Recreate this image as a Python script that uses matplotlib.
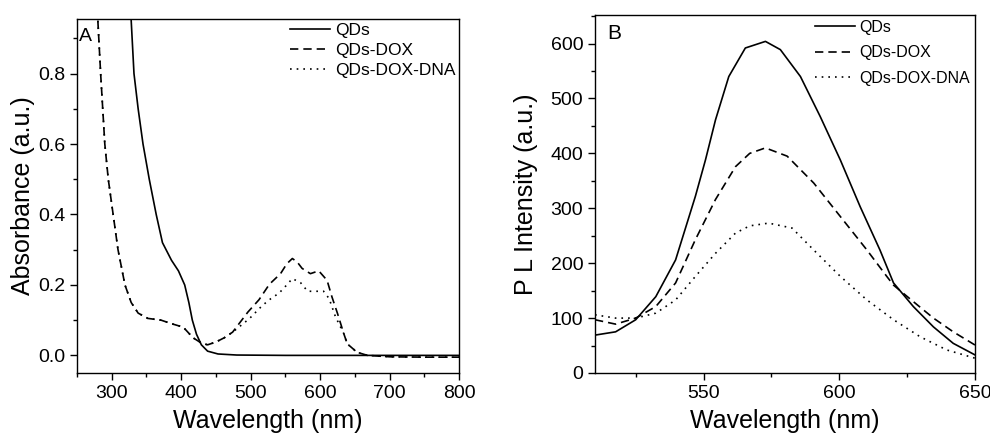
import matplotlib
matplotlib.use("Agg")
import matplotlib.pyplot as plt
from matplotlib.ticker import MultipleLocator, FormatStrFormatter

plt.rcParams["font.family"] = ["Liberation Sans", "DejaVu Sans"]

# panel A: absorbance vs wavelength
abs_qd_x = [328, 332, 338, 345, 354, 364, 373, 386, 396, 405, 411, 416, 422, 429, 438, 453, 480, 550, 650, 800]
abs_qd_y = [0.95, 0.8, 0.7, 0.6, 0.5, 0.4, 0.32, 0.27, 0.24, 0.2, 0.15, 0.1, 0.06, 0.03, 0.012, 0.004, 0.001, 0.0, 0.0, 0.0]

abs_dox_x = [280, 284, 287, 290, 295, 302, 309, 319, 328, 338, 352, 371, 386, 403, 417, 429, 438, 450, 462, 474,
             496, 512, 527, 543, 552, 560, 567, 574, 586, 598, 610, 617, 625, 634, 639, 653, 668, 700, 750, 800]
abs_dox_y = [0.95, 0.8, 0.7, 0.6, 0.5, 0.4, 0.3, 0.2, 0.15, 0.12, 0.105, 0.1, 0.09, 0.08, 0.05, 0.035, 0.03, 0.038, 0.05, 0.066,
             0.123, 0.158, 0.202, 0.232, 0.26, 0.275, 0.265, 0.247, 0.232, 0.24, 0.213, 0.166, 0.119, 0.062, 0.033, 0.009, 0.0, -0.004, -0.005, -0.005]

abs_dna_x = [280, 284, 287, 290, 295, 302, 309, 319, 328, 338, 352, 371, 386, 403, 417, 429, 438, 450, 462, 474,
             498, 517, 529, 541, 551, 560, 572, 582, 594, 605, 613, 622, 634, 639, 653, 668, 700, 750, 800]
abs_dna_y = [0.95, 0.8, 0.7, 0.6, 0.5, 0.4, 0.3, 0.2, 0.15, 0.12, 0.105, 0.1, 0.09, 0.08, 0.05, 0.035, 0.03, 0.038, 0.05, 0.066,
             0.104, 0.142, 0.161, 0.177, 0.198, 0.218, 0.206, 0.182, 0.182, 0.182, 0.161, 0.11, 0.062, 0.033, 0.009, 0.0, -0.004, -0.005, -0.005]

# panel B: PL intensity vs wavelength
pl_qd_x = [510, 517.6, 525, 532.4, 539.7, 547, 550.7, 554.4, 559.3, 565.4, 572.8, 578.3, 585.7, 593, 600.4,
           607.7, 615, 617.5, 620, 627.3, 634.7, 642, 650]
pl_qd_y = [69, 75, 97, 139, 206, 322, 388, 461, 540, 592, 604, 589, 540, 467, 388,
           303, 224, 194, 164, 121, 84, 54, 33]

pl_dox_x = [510, 517.6, 525, 532.4, 539.7, 547, 554.4, 561.8, 567, 572.8, 580.8, 590.6, 600.4, 610.2, 617.5,
            620, 627.3, 634.7, 642, 650]
pl_dox_y = [97, 89, 100, 121, 164, 243, 316, 376, 400, 410, 395, 346, 285, 224, 176,
            160, 130, 100, 75, 51]

pl_dna_x = [510, 517.6, 525, 532.4, 539.7, 547, 554.4, 561.8, 567, 574, 582.6, 590.6, 600.4, 610.2, 620,
            629.8, 639.6, 650]
pl_dna_y = [106, 100, 100, 109, 133, 176, 218, 255, 268, 273, 264, 224, 176, 133, 97,
            66, 42, 27]

labels = ["QDs", "QDs-DOX", "QDs-DOX-DNA"]
styles = ["-", (0, (5, 3)), (0, (1, 3))]

fig = plt.figure(figsize=(9.9, 4.36), dpi=100)
axA = fig.add_axes([0.0778, 0.1445, 0.3859, 0.812])
axB = fig.add_axes([0.601, 0.1445, 0.3838, 0.821])

for xs, ys, ls, lab in zip([abs_qd_x, abs_dox_x, abs_dna_x], [abs_qd_y, abs_dox_y, abs_dna_y], styles, labels):
    axA.plot(xs, ys, color="black", linestyle=ls, linewidth=1.2, label=lab)
for xs, ys, ls, lab in zip([pl_qd_x, pl_dox_x, pl_dna_x], [pl_qd_y, pl_dox_y, pl_dna_y], styles, labels):
    axB.plot(xs, ys, color="black", linestyle=ls, linewidth=1.2, label=lab)

axA.set_xlim(250, 800)
axA.set_ylim(-0.05, 0.955)
axA.xaxis.set_major_locator(MultipleLocator(100))
axA.xaxis.set_minor_locator(MultipleLocator(50))
axA.yaxis.set_major_locator(MultipleLocator(0.2))
axA.yaxis.set_minor_locator(MultipleLocator(0.1))
axA.yaxis.set_major_formatter(FormatStrFormatter("%.1f"))
axA.set_xlabel("Wavelength (nm)", fontsize=18, labelpad=5)
axA.set_ylabel("Absorbance (a.u.)", fontsize=18, labelpad=2)
axA.text(0.004, 0.975, "A", transform=axA.transAxes, fontsize=14, va="top", ha="left")

axB.set_xlim(510, 650)
axB.set_ylim(0, 652)
axB.xaxis.set_major_locator(MultipleLocator(50))
axB.xaxis.set_minor_locator(MultipleLocator(25))
axB.yaxis.set_major_locator(MultipleLocator(100))
axB.yaxis.set_minor_locator(MultipleLocator(50))
axB.set_xlabel("Wavelength (nm)", fontsize=18, labelpad=5)
axB.set_ylabel("P L Intensity (a.u.)", fontsize=18, labelpad=9)
axB.text(0.033, 0.975, "B", transform=axB.transAxes, fontsize=15, va="top", ha="left")

for ax in (axA, axB):
    ax.tick_params(which="major", direction="out", length=5, width=1, labelsize=14, top=False, right=False)
    ax.tick_params(which="minor", direction="out", length=3, width=1, top=False, right=False)
    for s in ax.spines.values():
        s.set_linewidth(1)

axA.legend(loc="upper right", frameon=False, fontsize=12.5, handlelength=2.3,
           handletextpad=0.3, labelspacing=0.3, borderaxespad=0.0, borderpad=0.2)
axB.legend(loc="upper right", frameon=False, fontsize=11.5, handlelength=2.5,
           handletextpad=0.3, labelspacing=0.65, borderaxespad=0.0, borderpad=0.3)

fig.savefig("out.png", dpi=100)
